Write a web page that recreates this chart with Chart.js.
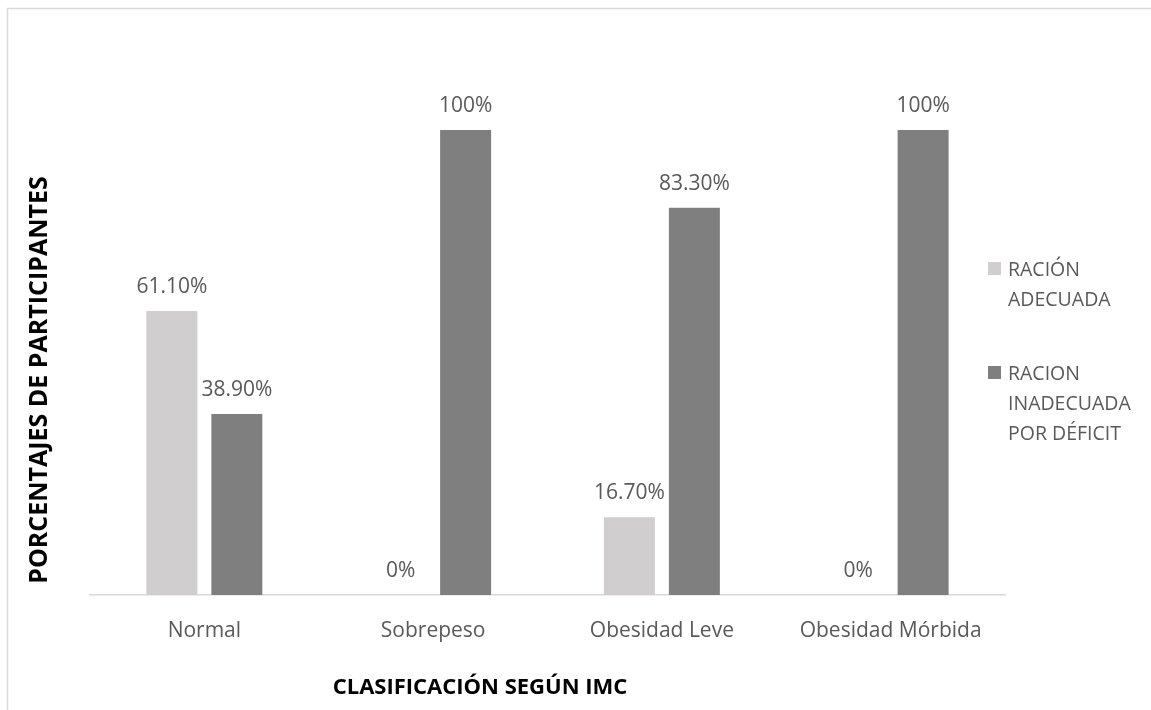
<!DOCTYPE html>
<html>
<head>
<meta charset="utf-8">
<script src="https://cdn.jsdelivr.net/npm/chart.js@4.4.1/dist/chart.umd.min.js"></script>
<style>
  html, body { margin: 0; padding: 0; background: #fff; }
  #wrap { width: 1151px; height: 710px; position: relative; }
</style>
</head>
<body>
<div id="wrap"><canvas id="imcChart"></canvas></div>
<script>
// data
const categories = ['Normal', 'Sobrepeso', 'Obesidad Leve', 'Obesidad Mórbida'];
const adecuada = [61.1, 0, 16.7, 0];
const inadecuada = [38.9, 100, 83.3, 100];
const adecuadaLabels = ['61.10%', '0%', '16.70%', '0%'];
const inadecuadaLabels = ['38.90%', '100%', '83.30%', '100%'];
const legendNames = [['RACIÓN', 'ADECUADA'], ['RACION', 'INADECUADA', 'POR DÉFICIT']];
const yTitle = 'PORCENTAJES DE PARTICIPANTES';
const xTitle = 'CLASIFICACIÓN SEGÚN IMC';

const LIGHT = '#d0cece';
const DARK = '#7f7f7f';
const TEXT = '#595959';
const FONT = '"Open Sans", sans-serif';

// frame, value labels, legend and axis titles
const extras = {
  id: 'extras',
  beforeDraw(chart) {
    const ctx = chart.ctx;
    ctx.save();
    ctx.fillStyle = '#fff';
    ctx.fillRect(0, 0, chart.width, chart.height);
    ctx.strokeStyle = '#d9d9d9';
    ctx.lineWidth = 1.5;
    ctx.beginPath();
    ctx.moveTo(7.5, chart.height + 2);
    ctx.lineTo(7.5, 8.5);
    ctx.lineTo(chart.width + 2, 8.5);
    ctx.stroke();
    ctx.restore();
  },
  afterDatasetsDraw(chart) {
    const ctx = chart.ctx;
    const texts = [adecuadaLabels, inadecuadaLabels];
    ctx.save();
    ctx.font = '21px ' + FONT;
    ctx.fillStyle = TEXT;
    ctx.textAlign = 'center';
    ctx.textBaseline = 'middle';
    chart.data.datasets.forEach((ds, i) => {
      chart.getDatasetMeta(i).data.forEach((bar, j) => {
        ctx.fillText(texts[i][j], bar.x, bar.y - 24);
      });
    });

    // legend
    ctx.textAlign = 'left';
    ctx.font = '19.5px ' + FONT;
    const tops = [269, 373];
    chart.data.datasets.forEach((ds, i) => {
      ctx.fillStyle = ds.backgroundColor;
      ctx.fillRect(988, tops[i] - 7, 13, 13);
      ctx.fillStyle = TEXT;
      legendNames[i].forEach((line, k) => {
        ctx.fillText(line, 1008, tops[i] + 1 + k * 30);
      });
    });

    // axis titles
    ctx.fillStyle = '#000';
    ctx.font = 'bold 22px ' + FONT;
    ctx.textAlign = 'center';
    ctx.fillText(xTitle, 480, 688);
    ctx.translate(40, 380);
    ctx.rotate(-Math.PI / 2);
    ctx.font = 'bold 25px ' + FONT;
    ctx.fillText(yTitle, 0, 0);
    ctx.restore();
  }
};

new Chart(document.getElementById('imcChart'), {
  type: 'bar',
  data: {
    labels: categories,
    datasets: [
      { label: legendNames[0].join(' '), data: adecuada, backgroundColor: LIGHT,
        categoryPercentage: 0.568, barPercentage: 0.785 },
      { label: legendNames[1].join(' '), data: inadecuada, backgroundColor: DARK,
        categoryPercentage: 0.568, barPercentage: 0.785 }
    ]
  },
  options: {
    responsive: true, maintainAspectRatio: false, animation: false,
    layout: { padding: { left: 90, right: 146, top: 37, bottom: 0 } },
    plugins: { legend: { display: false }, tooltip: { enabled: false } },
    scales: {
      y: { display: false, min: 0, max: 120 },
      x: {
        grid: { display: false, drawTicks: false },
        border: { color: '#d9d9d9', width: 1.5 },
        ticks: { color: TEXT, font: { family: FONT, size: 21 }, padding: 23 },
        afterFit(scale) { scale.height = 115; }
      }
    }
  },
  plugins: [extras]
});
</script>
</body>
</html>
